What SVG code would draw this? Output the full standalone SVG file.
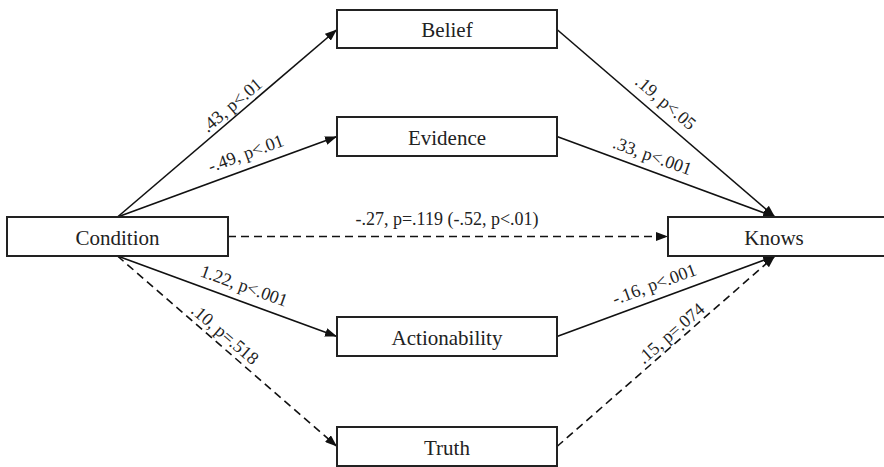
<svg xmlns="http://www.w3.org/2000/svg" width="884" height="467" viewBox="0 0 884 467">
<style>
.box{fill:#fff;stroke:#222;stroke-width:2}
.nt{font-family:'Liberation Serif','Times New Roman',Times,'Nimbus Roman','DejaVu Serif',serif;font-size:21px;fill:#222;text-anchor:middle}
.lt{font-family:'Liberation Serif','Times New Roman',Times,'Nimbus Roman','DejaVu Serif',serif;font-size:18px;fill:#222;text-anchor:middle}
.c{fill:none;stroke:#111;stroke-width:1.6}
.d{stroke-dasharray:8,5}
</style>
<defs>
<marker id="arr" markerWidth="12" markerHeight="9" refX="12" refY="4.5" orient="auto" markerUnits="userSpaceOnUse">
<path d="M0,0 L12,4.5 L0,9 z" fill="#111"/>
</marker>
</defs>
<rect width="884" height="467" fill="#fff"/>
<g id="connectors">
<path class="c" d="M117.5,217 L337,29.5" marker-end="url(#arr)"/>
<path class="c" d="M117.5,217 L337,136.5" marker-end="url(#arr)"/>
<path class="c" d="M117.5,256 L337,336.5" marker-end="url(#arr)"/>
<path class="c d" d="M117.5,256 L337,446.5" marker-end="url(#arr)"/>
<path class="c d" d="M228,236.5 L668,236.5" marker-end="url(#arr)"/>
<path class="c" d="M557,29.5 L775,217" marker-end="url(#arr)"/>
<path class="c" d="M557,136.5 L775,217" marker-end="url(#arr)"/>
<path class="c" d="M557,336.5 L775,256" marker-end="url(#arr)"/>
<path class="c d" d="M557,446.5 L775,256" marker-end="url(#arr)"/>
</g>
<g id="labels">
<text class="lt" transform="translate(231.7,105) rotate(-40.5)" y="6">.43, p&lt;.01</text>
<text class="lt" transform="translate(245.8,153.3) rotate(-20.1)" y="6">-.49, p&lt;.01</text>
<text class="lt" transform="translate(665.8,102.5) rotate(40.6)" y="6">.19, p&lt;.05</text>
<text class="lt" transform="translate(652.5,155.8) rotate(19.7)" y="6">.33, p&lt;.001</text>
<text class="lt" transform="translate(244.2,285.8) rotate(19.75)" y="6">1.22, p&lt;.001</text>
<text class="lt" transform="translate(225,334.2) rotate(40.6)" y="6">.10, p=.518</text>
<text class="lt" transform="translate(654.2,284.2) rotate(-20.2)" y="6">-.16, p&lt;.001</text>
<text class="lt" transform="translate(670.8,333.3) rotate(-41)" y="6">.15, p=.074</text>
<text class="lt" x="447" y="225">-.27, p=.119 (-.52, p&lt;.01)</text>
</g>
<g id="condition"><rect class="box" x="7" y="217" width="221" height="39"/><text class="nt" x="117.5" y="244.5">Condition</text></g>
<g id="belief"><rect class="box" x="337" y="10" width="220" height="38"/><text class="nt" x="447" y="37">Belief</text></g>
<g id="evidence"><rect class="box" x="337" y="117" width="220" height="39"/><text class="nt" x="447" y="144.5">Evidence</text></g>
<g id="actionability"><rect class="box" x="337" y="317" width="220" height="39"/><text class="nt" x="447" y="344.5">Actionability</text></g>
<g id="truth"><rect class="box" x="337" y="427" width="220" height="39"/><text class="nt" x="447" y="454.5">Truth</text></g>
<g id="knows"><rect class="box" x="668" y="217" width="240" height="39"/><text class="nt" x="774" y="244.5">Knows</text></g>
</svg>
